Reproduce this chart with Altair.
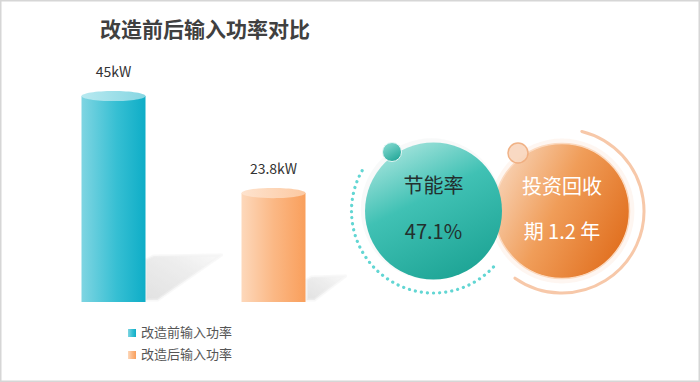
import altair as alt
import pandas as pd

# ---------------- data ----------------
TITLE = "改造前后输入功率对比"
categories = ["改造前输入功率", "改造后输入功率"]
power_kw = [45, 23.8]
power_labels = ["45kW", "23.8kW"]
kpi_line1 = ["节能率", "投资回收"]
kpi_line2 = ["47.1%", "期 1.2 年"]

# ---------------- layout / style ----------------
W, H = 700, 382
FONT = "Noto Sans CJK SC"


def lin(stops, x1=0, y1=0, x2=1, y2=0):
    return alt.Gradient(
        gradient="linear",
        stops=[alt.GradientStop(color=c, offset=o) for o, c in stops],
        x1=x1, y1=y1, x2=x2, y2=y2,
    )


CYAN = lin([(0, "#7fd5e2"), (0.55, "#36bfd3"), (1, "#0eadc7")])
CYAN_TOP = lin([(0, "#b8e9f0"), (1, "#86d6e2")])
PEACH = lin([(0, "#fdd8bb"), (0.5, "#fbb885"), (1, "#f99f5c")])
PEACH_TOP = lin([(0, "#fee3ce"), (1, "#fcc9a2")])
TEAL = lin([(0, "#a6e4dd"), (0.4, "#40c1b4"), (1, "#1ca394")], x1=0.25, y1=0, x2=0.75, y2=1)
ORANGE = lin([(0, "#f8d3b6"), (0.45, "#f09d59"), (1, "#e06d1c")], x1=0, y1=0.25, x2=1, y2=0.75)
TEAL_DOT = lin([(0, "#86dbd2"), (1, "#1fa596")], x1=0.2, y1=0, x2=0.8, y2=1)
SHADOW = lin([(0, "#d6d6d6"), (0.6, "#e6e6e6"), (1, "#f8f8f8")], x1=0, y1=1, x2=1, y2=0)

ELLIPSE = "M -1 0 A 1 0.16 0 1 1 1 0 A 1 0.16 0 1 1 -1 0 Z"
SHADOW_PATHS = [
    "M 32 -2 L 32 -42 L 40 -46 L 108 -47 L 44 -2 Z",
    "M 33 -2 L 33 -22 L 38 -25 L 72 -26 L 41 -2 Z",
]
DOT_ARC = "M 0.7314 0.6820 A 1 1 0 0 1 -0.8660 -0.5"
ORANGE_ARC = "M 0.2419 -0.9703 A 1 1 0 1 1 -0.5736 0.8192"

bars_df = pd.DataFrame({"category": categories, "kW": power_kw, "label": power_labels})
kpi_df = pd.DataFrame({"kpi": kpi_line1, "value": kpi_line2})
one = pd.DataFrame({"k": [0]})

xbar = alt.X("category:N", axis=None,
             scale=alt.Scale(domain=categories, range=[33.5, 353.5], paddingInner=0, paddingOuter=0))
ybar = alt.Y("kW:Q", axis=None,
             scale=alt.Scale(domain=[0, 45], range=[302, 96], nice=False, zero=True))
yzero = alt.Y("zero:Q", axis=None,
              scale=alt.Scale(domain=[0, 45], range=[302, 96], nice=False, zero=True))
ylegend = alt.Y("category:N", axis=None,
                scale=alt.Scale(type="point", domain=categories, range=[333, 355], padding=0))
xkpi = alt.X("kpi:N", axis=None,
             scale=alt.Scale(type="point", domain=kpi_line1, range=[433.5, 562], padding=0))
ykpi = alt.value(211)

layers = []

# title
layers.append(
    alt.Chart(one).mark_text(text=TITLE, font=FONT, fontSize=21, fontWeight="bold",
                             color="#404040", align="center", baseline="middle")
    .encode(x=alt.value(205), y=alt.value(31))
)

# bars (cylinders)
fills = [(CYAN, CYAN_TOP), (PEACH, PEACH_TOP)]
for i, cat in enumerate(categories):
    body, top = fills[i]
    base = alt.Chart(bars_df).transform_filter(alt.datum.category == cat)
    layers.append(
        base.transform_calculate(zero="0")
        .mark_point(shape=SHADOW_PATHS[i], size=4, filled=True, fill=SHADOW, opacity=0.7,
                    stroke="#eeeeee", strokeWidth=3, strokeOpacity=0.5, strokeJoin="round")
        .encode(x=xbar, y=yzero)
    )
    layers.append(base.mark_bar(width=64, fill=body, cornerRadius=0).encode(x=xbar, y=ybar))
    layers.append(
        base.mark_point(shape=ELLIPSE, size=4096, filled=True, fill=top, opacity=1, strokeWidth=0)
        .encode(x=xbar, y=ybar)
    )

# bar labels
layers.append(
    alt.Chart(bars_df).mark_text(font=FONT, fontSize=14, color="#333333", dy=-23, baseline="middle")
    .encode(x=xbar, y=ybar, text="label:N")
)

# legend
for i, cat in enumerate(categories):
    layers.append(
        alt.Chart(bars_df).transform_filter(alt.datum.category == cat)
        .mark_point(shape="square", size=64, filled=True, fill=fills[i][0], opacity=1, strokeWidth=0)
        .encode(x=alt.value(132), y=ylegend)
    )
layers.append(
    alt.Chart(bars_df).mark_text(font=FONT, fontSize=13, color="#555555", align="left", baseline="middle")
    .encode(x=alt.value(141), y=ylegend, text="category:N")
)

# KPI circles
kpi_a = alt.Chart(kpi_df).transform_filter(alt.datum.kpi == kpi_line1[0])
kpi_b = alt.Chart(kpi_df).transform_filter(alt.datum.kpi == kpi_line1[1])

# orange (payback) circle
layers.append(
    kpi_b.mark_point(shape=ORANGE_ARC, size=26896, filled=False, stroke="#f7c3a0",
                     strokeWidth=3, strokeCap="round", opacity=0.9)
    .encode(x=xkpi, y=ykpi)
)
layers.append(
    kpi_b.mark_point(shape="circle", size=21000, filled=True, fill="#f7b98c", opacity=0.12, strokeWidth=0)
    .encode(x=xkpi, y=ykpi)
)
layers.append(
    kpi_b.mark_point(shape="circle", size=18225, filled=True, fill=ORANGE, opacity=1,
                     stroke="#fbd9bf", strokeWidth=1.5)
    .encode(x=xkpi, y=ykpi)
)
layers.append(
    kpi_b.mark_point(shape="circle", size=400, filled=True, fill="#f9d8c0", opacity=0.95,
                     stroke="#f0ae80", strokeWidth=1.5, xOffset=-44, yOffset=-58)
    .encode(x=xkpi, y=ykpi)
)

# teal (energy saving) circle
layers.append(
    kpi_a.mark_point(shape=DOT_ARC, size=26896, filled=False, stroke="#62d6d3",
                     strokeWidth=3.2, strokeCap="round", strokeDash=[0.1, 6], opacity=1)
    .encode(x=xkpi, y=ykpi)
)
layers.append(
    kpi_a.mark_point(shape="circle", size=20000, filled=True, fill="#9aa5a4", opacity=0.07, strokeWidth=0,
                     xOffset=-2, yOffset=-2)
    .encode(x=xkpi, y=ykpi)
)
layers.append(
    kpi_a.mark_point(shape="circle", size=18769, filled=True, fill=TEAL, opacity=1, strokeWidth=0)
    .encode(x=xkpi, y=ykpi)
)
layers.append(
    kpi_a.mark_point(shape="circle", size=361, filled=True, fill=TEAL_DOT, opacity=1,
                     stroke="#e6f7f5", strokeWidth=1, xOffset=-41.5, yOffset=-59)
    .encode(x=xkpi, y=ykpi)
)

# KPI texts
layers.append(
    kpi_a.mark_text(font=FONT, fontSize=20, color="#23302e", dy=-24, baseline="middle")
    .encode(x=xkpi, y=ykpi, text="kpi:N")
)
layers.append(
    kpi_a.mark_text(font=FONT, fontSize=20, color="#23302e", dy=22, baseline="middle")
    .encode(x=xkpi, y=ykpi, text="value:N")
)
layers.append(
    kpi_b.mark_text(font=FONT, fontSize=20, color="#ffffff", dy=-23, baseline="middle")
    .encode(x=xkpi, y=ykpi, text="kpi:N")
)
layers.append(
    kpi_b.mark_text(font=FONT, fontSize=20, color="#ffffff", dy=22, baseline="middle")
    .encode(x=xkpi, y=ykpi, text="value:N")
)

chart = (
    alt.layer(*layers)
    .resolve_scale(x="independent", y="independent")
    .properties(width=W, height=H, padding=0, autosize=alt.AutoSizeParams(type="none"),
                background="#ffffff")
    .configure_view(stroke="#d6d6d6", strokeWidth=3)
)

chart.save("out.html", embed_options={"renderer": "svg", "actions": False})
